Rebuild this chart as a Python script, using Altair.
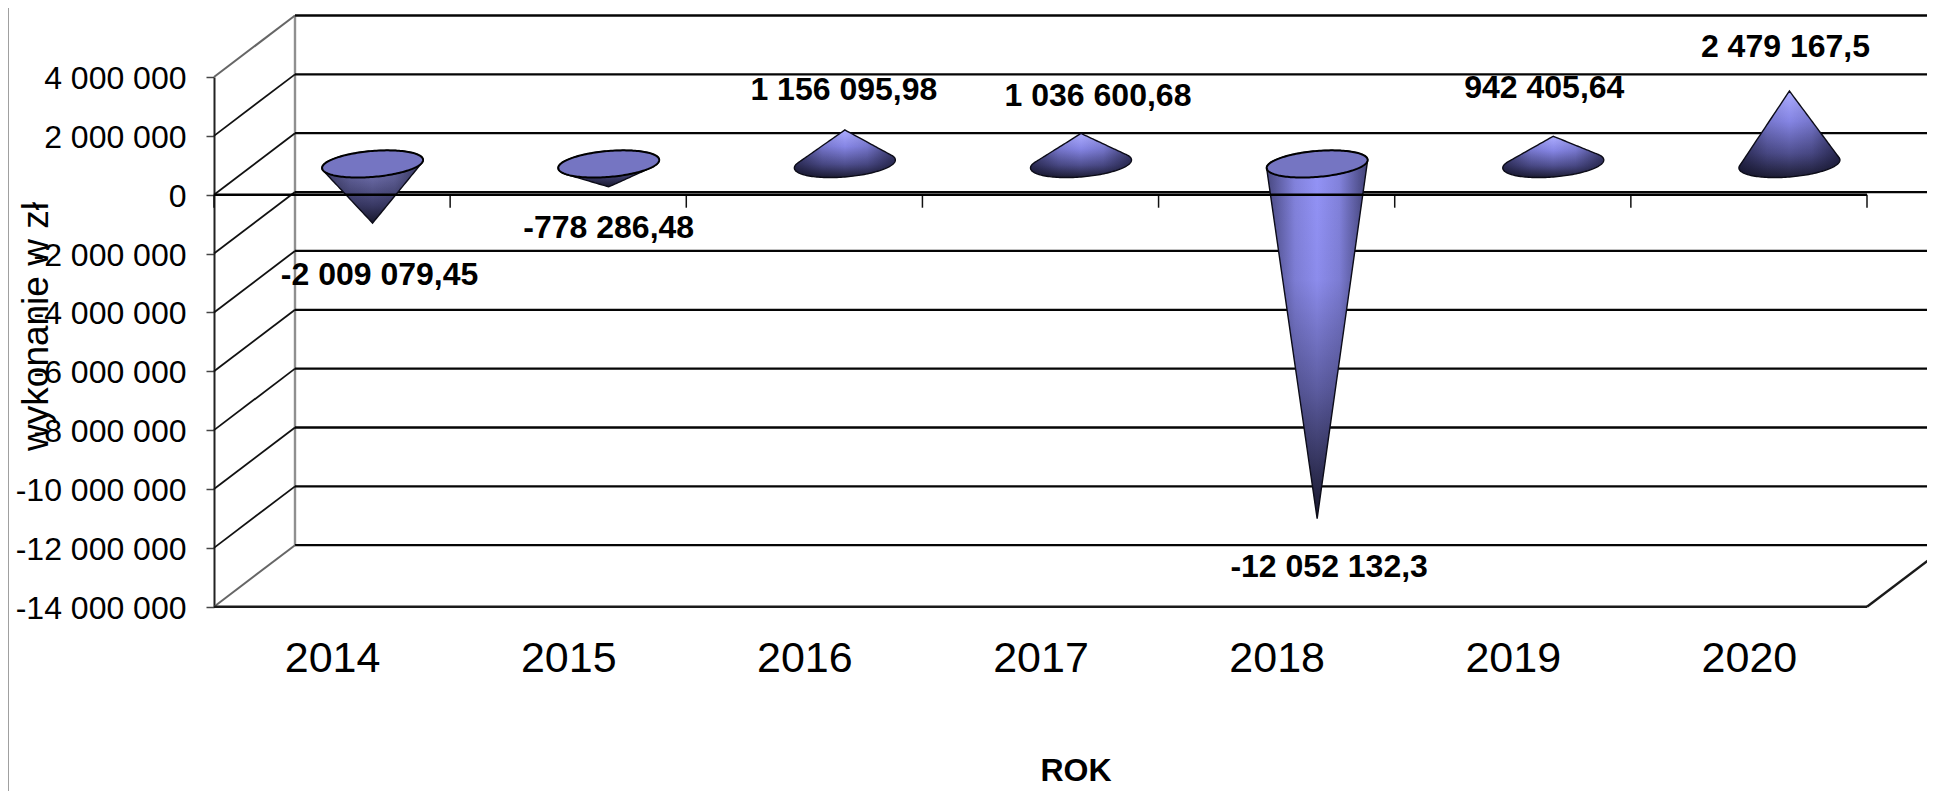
import json
import numpy as np
import pandas as pd
import altair as alt

years = ["2014", "2015", "2016", "2017", "2018", "2019", "2020"]
values = [-2009079.45, -778286.48, 1156095.98, 1036600.68, -12052132.3, 942405.64, 2479167.5]
labels = ["-2 009 079,45", "-778 286,48", "1 156 095,98", "1 036 600,68",
          "-12 052 132,3", "942 405,64", "2 479 167,5"]
y_ticks = [4e6, 2e6, 0, -2e6, -4e6, -6e6, -8e6, -10e6, -12e6, -14e6]

# label offsets from the cone tip, in pixels
label_dx = [7, 0, -1, 17, 12, -9, -4]
label_dy = [51.7, 41, -40, -37, 48, -48, -44.5]

W, H = 1653, 529.7
PAD_L, PAD_T, PAD_R, PAD_B = 206, 69, 60, 184.3
PX = 7 / W            # x data units per pixel
PY = 18e6 / H         # y data units per pixel
DX, DY = 81 * PX, 61.5 * PY   # depth of the pseudo-3D box

FONT = "Liberation Sans"
xs = alt.Scale(domain=[0, 7], nice=False, zero=False)
ys = alt.Scale(domain=[-14e6, 4e6], nice=False, zero=False)

y_expr = "(datum.value<0?'-':'') + replace(format(abs(datum.value), ','), regexp(',', 'g'), ' ')"
x_expr = json.dumps(years) + "[datum.value-0.5]"
X_AXIS = alt.Axis(values=[i + 0.5 for i in range(7)], labelExpr=x_expr, ticks=False, domain=False,
                  grid=False, labelFont=FONT, labelFontSize=43, labelColor="#000000",
                  labelPadding=31, labelOverlap=False, labelFlush=False, labelBound=False,
                  titleFont=FONT, titleFontSize=32, titleFontWeight="bold", titleColor="#000000",
                  titleX=861.5, titleY=174, titleAlign="center", titleBaseline="alphabetic")
Y_AXIS = alt.Axis(values=y_ticks, labelExpr=y_expr, tickSize=8, tickColor="#444444", tickWidth=1.5,
                  domainColor="#222222", domainWidth=2, grid=False, labelFont=FONT, labelFontSize=32,
                  labelColor="#000000", labelPadding=20, labelOverlap=False, labelFlush=False,
                  labelBound=False, labelOffset=1.5, titleFont=FONT, titleFontSize=37, titleFontWeight="normal",
                  titleColor="#000000", titleX=-178, titleY=249, titleAlign="center",
                  titleBaseline="middle", titleAngle=270)
X = alt.X("x:Q", scale=xs, title="ROK", axis=X_AXIS)
Y = alt.Y("y:Q", scale=ys, title="wykonanie w zł", axis=Y_AXIS)


def seg(rows, color, width):
    df = pd.DataFrame(rows, columns=["x", "y", "x2", "y2"])
    return alt.Chart(df).mark_rule(color=color, strokeWidth=width).encode(
        x=X, y=Y, x2="x2:Q", y2="y2:Q")


# --- walls
back_grid = seg([[DX, v + DY, 7 + DX, v + DY] for v in y_ticks], "#050505", 2.3)
diag = seg([[0, v, DX, v + DY] for v in y_ticks[1:-1]], "#111111", 1.8)
edge_diag = seg([[0, 4e6, DX, 4e6 + DY], [0, -14e6, DX, -14e6 + DY]], "#666666", 2)
back_wall = seg([[DX, 4e6 + DY, DX, -14e6 + DY]], "#8f8f8f", 2.4)
floor = seg([[0, -14e6, 7, -14e6], [7, -14e6, 7 + DX, -14e6 + DY]], "#1a1a1a", 2.4)
frame = seg([[-206 * PX, 4e6 + 69 * PY, -206 * PX, -14e6 - 184.3 * PY]], "#a0a0a0", 2)
zero_ticks = seg([[i, 0, i, -13 * PY] for i in range(8)], "#111111", 1.5)
zero_line = seg([[0, 0, 7, 0]], "#000000", 2.4)

# --- cones
A, B, S = 50.5, 13.0, 4.0   # ellipse half-width, half-height and skew, pixels
T = np.linspace(0, np.pi, 81)

GRAD = {
    "pos": [("#adadff", 0), ("#8585e4", 0.35), ("#4f4f8f", 0.72), ("#1d1d34", 1)],
    "neg_short": [("#7e7ecb", 0), ("#65659f", 0.4), ("#3a3a66", 0.75), ("#17172c", 1)],
    "neg_long": [("#9494f8", 0), ("#8c8cec", 0.35), ("#5c5ca0", 0.65), ("#17172c", 1)],
}


def grad(name):
    return alt.Gradient(gradient="linear", x1=0, x2=0, y1=0, y2=1,
                        stops=[alt.GradientStop(color=c, offset=o) for c, o in GRAD[name]])


SHADE = alt.Gradient(gradient="linear", x1=0, x2=1, y1=0, y2=0, stops=[
    alt.GradientStop(color="rgba(10,10,30,0.55)", offset=0),
    alt.GradientStop(color="rgba(10,10,30,0.12)", offset=0.28),
    alt.GradientStop(color="rgba(10,10,30,0)", offset=0.5),
    alt.GradientStop(color="rgba(10,10,30,0.12)", offset=0.72),
    alt.GradientStop(color="rgba(10,10,30,0.6)", offset=1),
])


def hull(edge, c, tip, sign):
    """Edge of the cone's silhouette: tangent lines from the tip, ellipse beyond them."""
    dist = np.abs(c)
    out = edge.copy()
    for side in (c > 1e-9, c < -1e-9):
        m = sign * (tip - edge[side]) / dist[side]
        k = m.min()
        reach = dist[side][m.argmin()]
        inside = (dist <= reach) & (side | (dist < 1e-9))
        out[inside] = tip - sign * k * dist[inside]
    return out


cone_layers = []
text_rows = []
for i, v in enumerate(values):
    cx = i + 0.5 + DX / 2
    cy = DY / 2
    tip = cy + v
    c = np.cos(T)
    s = np.sin(T)
    ex = cx + A * PX * c
    top = cy + (B * s + S * c) * PY
    bot = cy + (-B * s + S * c) * PY
    if v > 0:
        up, lo = hull(top, c, tip, 1), bot
    else:
        up, lo = top, hull(bot, c, tip, -1)
    d = pd.DataFrame({"x": ex, "y": up, "y2": lo}).sort_values("x")
    name = "pos" if v > 0 else ("neg_long" if v < -5e6 else "neg_short")
    cone_layers.append(alt.Chart(d).mark_area(color=grad(name), orient="vertical").encode(
        x=X, y=Y, y2="y2:Q"))
    cone_layers.append(alt.Chart(d).mark_area(color=SHADE, orient="vertical").encode(
        x=X, y=Y, y2="y2:Q"))
    xo = np.concatenate([d["x"].values, d["x"].values[::-1]])
    yo = np.concatenate([d["y"].values, d["y2"].values[::-1]])
    o = pd.DataFrame({"x": xo, "y": yo, "o": np.arange(len(xo))})
    cone_layers.append(alt.Chart(o).mark_line(color="#0c0c18", strokeWidth=1.4).encode(
        x=X, y=Y, order="o:Q"))
    if v < 0:
        cap = pd.DataFrame({"x": ex, "y": top, "y2": bot}).sort_values("x")
        cone_layers.append(alt.Chart(cap).mark_area(color="#7575c2", orient="vertical").encode(
            x=X, y=Y, y2="y2:Q"))
        xc = np.concatenate([cap["x"].values, cap["x"].values[::-1]])
        yc = np.concatenate([cap["y"].values, cap["y2"].values[::-1]])
        oc = pd.DataFrame({"x": xc, "y": yc, "o": np.arange(len(xc))})
        cone_layers.append(alt.Chart(oc).mark_line(color="#000000", strokeWidth=2).encode(
            x=X, y=Y, order="o:Q"))
    text_rows.append({"x": cx + label_dx[i] * PX, "y": tip - label_dy[i] * PY, "t": labels[i]})

texts = alt.Chart(pd.DataFrame(text_rows)).mark_text(
    font=FONT, fontSize=32, fontWeight="bold", color="#000000", align="center", baseline="middle"
).encode(x=X, y=Y, text="t:N")

chart = alt.layer(
    frame, back_wall, back_grid, diag, edge_diag, floor, zero_ticks,
    *cone_layers, zero_line, texts
).properties(
    width=W, height=H,
    padding={"left": PAD_L, "top": PAD_T, "right": PAD_R, "bottom": PAD_B},
    autosize=alt.AutoSizeParams(type="none"),
    background="#ffffff",
).configure_view(strokeWidth=0)

chart.save("out.html", embed_options={"renderer": "svg", "actions": False})
